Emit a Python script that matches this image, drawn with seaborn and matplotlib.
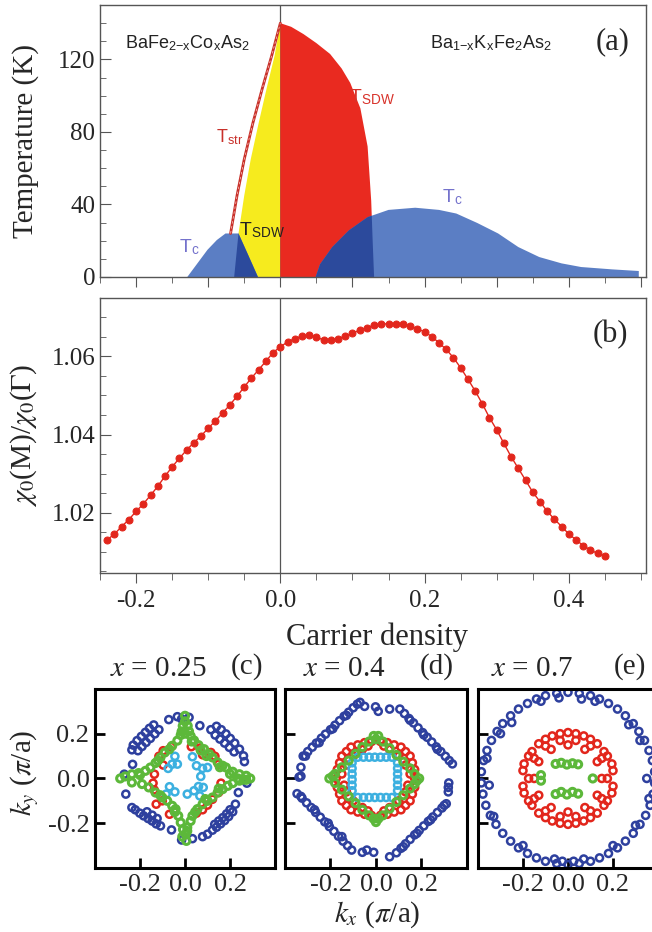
import matplotlib
matplotlib.use('Agg')
import matplotlib.pyplot as plt
import seaborn as sns
import numpy as np
from matplotlib.patches import Polygon
from matplotlib.ticker import MultipleLocator

# ---------------- (a) phase diagram boundaries ----------------
tc_co_x = [-0.129, -0.115, -0.101, -0.088, -0.076, -0.058, -0.045, -0.031]
tc_co_T = [0, 7.5, 15, 20.4, 24, 24, 12.5, 0]
sdw_co_x = [0.0, -0.008, -0.019, -0.030, -0.041, -0.050, -0.058, -0.064]
sdw_co_T = [140, 122, 104, 85, 65, 45, 24, 0]
tstr_x = [-0.069, -0.060, -0.050, -0.038, -0.025, -0.012, 0.0]
tstr_T = [24, 45, 65, 85, 104, 122, 140]
sdw_k_x = [0.0, 0.015, 0.032, 0.050, 0.069, 0.085, 0.097, 0.111, 0.121, 0.126, 0.128, 0.130]
sdw_k_T = [140, 138, 134, 129, 123, 115, 107, 93, 72, 42, 20, 0]
tc_k_x = [0.049, 0.055, 0.072, 0.095, 0.121, 0.15, 0.187, 0.22, 0.244, 0.273,
          0.302, 0.33, 0.359, 0.39, 0.417, 0.46, 0.497]
tc_k_T = [0, 7, 16.5, 25.7, 33, 37, 38.2, 37, 35, 29.8, 24, 16.5, 11, 7.5, 5.5, 4.2, 3.3]

# ---------------- (b) susceptibility ratio ----------------
carrier = [-0.24, -0.23, -0.22, -0.21, -0.20, -0.19, -0.18, -0.17, -0.16, -0.15,
           -0.14, -0.13, -0.12, -0.11, -0.10, -0.09, -0.08, -0.07, -0.06, -0.05,
           -0.04, -0.03, -0.02, -0.01, 0.00, 0.01, 0.02, 0.03, 0.04, 0.05,
           0.06, 0.07, 0.08, 0.09, 0.10, 0.11, 0.12, 0.13, 0.14, 0.15,
           0.16, 0.17, 0.18, 0.19, 0.20, 0.21, 0.22, 0.23, 0.24, 0.25,
           0.26, 0.27, 0.28, 0.29, 0.30, 0.31, 0.32, 0.33, 0.34, 0.35,
           0.36, 0.37, 0.38, 0.39, 0.40, 0.41, 0.42, 0.43, 0.44, 0.45]
chi_ratio = [1.0130, 1.0145, 1.0164, 1.0182, 1.0203, 1.0222, 1.0244, 1.0267, 1.0293, 1.0317,
             1.0339, 1.0360, 1.0379, 1.0396, 1.0416, 1.0435, 1.0455, 1.0476, 1.0498, 1.0522,
             1.0545, 1.0566, 1.0588, 1.0610, 1.0625, 1.0637, 1.0646, 1.0652, 1.0654, 1.0650,
             1.0642, 1.0641, 1.0646, 1.0652, 1.0659, 1.0668, 1.0674, 1.0680, 1.0683, 1.0684,
             1.0684, 1.0683, 1.0678, 1.0671, 1.0663, 1.0651, 1.0635, 1.0618, 1.0597, 1.0571,
             1.0542, 1.0512, 1.0479, 1.0443, 1.0412, 1.0377, 1.0343, 1.0313, 1.0283, 1.0252,
             1.0228, 1.0203, 1.0183, 1.0164, 1.0145, 1.0130, 1.0115, 1.0104, 1.0095, 1.0089]

# ---------------- (c) x = 0.25 Fermi surface ----------------
c_blue_kx = [-0.139, -0.158, -0.176, -0.194, -0.213, -0.230, -0.236,
             -0.116, -0.134, -0.154, -0.173, -0.191, -0.209,
             -0.072, -0.034, -0.015, 0.018, 0.066,
             0.140, 0.161, 0.182, 0.201, 0.221, 0.242, 0.260,
             0.115, 0.134, 0.155, 0.176, 0.197, 0.218,
             0.264, 0.275, 0.237,
             0.224, 0.212, 0.194, 0.176, 0.158, 0.140, 0.122, 0.100, 0.078,
             0.200, 0.185, 0.168, 0.150, 0.132,
             0.033, -0.015, -0.060,
             -0.109, -0.128, -0.146, -0.164, -0.184, -0.201, -0.221, -0.236,
             -0.124, -0.146, -0.169,
             -0.263, -0.270, -0.233]
c_blue_ky = [0.239, 0.224, 0.206, 0.188, 0.169, 0.149, 0.128,
             0.218, 0.199, 0.179, 0.161, 0.143, 0.124,
             0.263, 0.276, 0.266, 0.273, 0.236,
             0.233, 0.218, 0.199, 0.179, 0.158, 0.131, 0.101,
             0.218, 0.194, 0.176, 0.158, 0.139, 0.119,
             0.075, -0.021, -0.063,
             -0.115, -0.149, -0.170, -0.188, -0.203, -0.218, -0.231, -0.249, -0.260,
             -0.140, -0.158, -0.175, -0.190, -0.205,
             -0.269, -0.275, -0.230,
             -0.212, -0.203, -0.190, -0.179, -0.167, -0.155, -0.140, -0.130,
             -0.179, -0.164, -0.149,
             -0.070, 0.019, 0.063]
c_red_kx = [-0.061, -0.097, -0.116, -0.097, -0.136, -0.142, -0.137, -0.128, -0.101, -0.069,
            -0.049, 0.028, 0.066, 0.078, 0.115, 0.133, 0.149, 0.160, 0.149, 0.122,
            0.100, 0.078, 0.051]
c_red_ky = [0.142, 0.124, 0.099, 0.060, 0.019, -0.021, -0.051, -0.115, -0.100, -0.160,
            -0.145, 0.142, 0.136, 0.106, 0.116, 0.099, 0.064, -0.021, -0.063, -0.093,
            -0.119, -0.140, -0.155]
c_cyan_kx = [-0.045, -0.057, -0.075, -0.034, 0.033, 0.051, 0.078, 0.070, 0.100,
             -0.069, -0.045, -0.084, 0.010, 0.040, 0.060, 0.081, 0.066]
c_cyan_ky = [0.099, 0.064, 0.045, 0.064, 0.097, 0.057, 0.045, 0.009, 0.049,
             -0.037, -0.060, -0.070, -0.070, -0.055, -0.036, -0.040, -0.078]
c_green_kx = [0.0, 0.0, -0.010, 0.012, -0.015, 0.018, 0.0,
              0.025, 0.040, 0.060, 0.085, 0.107, 0.122, 0.145, 0.167, 0.182, 0.212, 0.242, 0.272,
              0.290, 0.260, 0.235,
              0.272, 0.242, 0.212, 0.190, 0.167, 0.145, 0.122, 0.100, 0.078, 0.055, 0.033,
              0.025, 0.010, 0.003, 0.006,
              -0.236, -0.191, -0.161, -0.131, -0.101, -0.079, -0.057, -0.042, -0.030, -0.019, -0.009,
              -0.288, -0.266,
              -0.236, -0.206, -0.176, -0.154, -0.131, -0.109, -0.090, -0.057, -0.034, -0.019,
              0.030, 0.070, 0.095, 0.155, 0.200, -0.070, -0.120, -0.200, -0.045, -0.110,
              0.045, 0.090, 0.150, -0.012, 0.010]
c_green_ky = [0.280, 0.255, 0.235, 0.235, 0.210, 0.210, 0.200,
              0.190, 0.170, 0.149, 0.131, 0.109, 0.094, 0.072, 0.057, 0.049, 0.030, 0.019, 0.012,
              0.0, -0.005, 0.0,
              -0.006, -0.010, -0.021, -0.033, -0.048, -0.063, -0.085, -0.100, -0.115, -0.137, -0.167,
              -0.190, -0.219, -0.249, -0.279,
              -0.018, -0.025, -0.040, -0.063, -0.085, -0.100, -0.122, -0.137, -0.167, -0.197, -0.227,
              0.0, 0.009,
              0.019, 0.024, 0.034, 0.049, 0.069, 0.094, 0.116, 0.146, 0.169, 0.194,
              0.165, 0.125, 0.100, 0.050, 0.020, 0.130, 0.080, 0.015, -0.150, -0.075,
              -0.150, -0.092, -0.045, -0.260, -0.235]

# ---------------- (d) x = 0.4 ----------------
d_blue_kx = [-0.320, -0.300, -0.280, -0.262, -0.240, -0.222, -0.200, -0.180, -0.160, -0.140, -0.120, -0.100, -0.082, -0.070,
             -0.050, -0.002, 0.010, 0.060, 0.105,
             0.125, 0.145, 0.165, 0.185, 0.205, 0.225, 0.245, 0.265, 0.285, 0.305, 0.322, 0.336,
             0.320, 0.318, 0.318, 0.309,
             0.290, 0.270, 0.250, 0.230, 0.210, 0.190, 0.170, 0.150, 0.130, 0.110, 0.090, 0.060,
             -0.010, -0.040, -0.060, -0.107,
             -0.125, -0.145, -0.165, -0.185, -0.205, -0.225, -0.245, -0.265, -0.285, -0.305, -0.325, -0.347,
             -0.338, -0.330, -0.330,
             -0.310, -0.250, -0.190, -0.130, 0.150, 0.210, 0.270, 0.300, 0.240, 0.180, 0.120,
             -0.150, -0.210, -0.270, -0.330]
d_blue_ky = [0.100, 0.120, 0.140, 0.158, 0.180, 0.198, 0.218, 0.238, 0.258, 0.278, 0.296, 0.316, 0.332, 0.340,
             0.322, 0.320, 0.300, 0.310, 0.310,
             0.290, 0.268, 0.248, 0.226, 0.205, 0.184, 0.163, 0.141, 0.120, 0.099, 0.080, 0.065,
             -0.020, -0.040, -0.060, -0.113,
             -0.132, -0.152, -0.172, -0.192, -0.212, -0.232, -0.252, -0.272, -0.292, -0.312, -0.332, -0.350,
             -0.330, -0.320, -0.330, -0.320,
             -0.300, -0.280, -0.258, -0.236, -0.215, -0.194, -0.173, -0.152, -0.130, -0.109, -0.088, -0.068,
             0.006, 0.010, 0.050,
             0.100, 0.160, 0.222, 0.282, 0.260, 0.195, 0.130, -0.120, -0.185, -0.245, -0.305,
             -0.260, -0.200, -0.140, -0.080]
d_red_kx = [-0.05, -0.02, 0.02, 0.05, 0.08, 0.11, 0.13, 0.15, 0.16, 0.17, 0.17, 0.17,
            0.16, 0.15, 0.13, 0.11, 0.08, 0.05, 0.02, -0.02, -0.05, -0.08, -0.11, -0.13,
            -0.15, -0.16, -0.17, -0.175, -0.17, -0.16, -0.15, -0.13, -0.11, -0.08,
            -0.13, -0.13, 0.13, 0.13, -0.06, 0.06, -0.06, 0.06, -0.10, 0.10, 0.10, -0.10,
            -0.15, 0.15, -0.14, 0.14, -0.035, 0.035, -0.035, 0.035]
d_red_ky = [0.16, 0.165, 0.165, 0.16, 0.15, 0.14, 0.12, 0.10, 0.07, 0.04, 0.0, -0.04,
            -0.07, -0.10, -0.12, -0.14, -0.15, -0.16, -0.165, -0.165, -0.16, -0.15, -0.14, -0.12,
            -0.10, -0.07, -0.04, 0.0, 0.04, 0.07, 0.10, 0.12, 0.14, 0.15,
            0.06, -0.06, 0.06, -0.06, 0.13, 0.13, -0.13, -0.13, 0.10, 0.10, -0.10, -0.10,
            0.02, 0.02, -0.03, -0.03, 0.145, 0.145, -0.145, -0.145]
d_green_kx = [-0.01, 0.01, 0.0,
              0.03, 0.06, 0.09, 0.12, 0.15, 0.17,
              0.19, 0.18,
              0.17, 0.15, 0.12, 0.09, 0.06, 0.03,
              0.0, -0.01, 0.01,
              -0.03, -0.06, -0.09, -0.12, -0.15, -0.18,
              -0.205, -0.19,
              -0.18, -0.15, -0.12, -0.09, -0.06, -0.03]
d_green_ky = [0.19, 0.19, 0.175,
              0.165, 0.135, 0.105, 0.075, 0.045, 0.02,
              0.0, -0.01,
              -0.025, -0.045, -0.075, -0.105, -0.135, -0.165,
              -0.195, -0.18, -0.18,
              -0.165, -0.14, -0.11, -0.08, -0.05, -0.02,
              0.0, 0.01,
              0.02, 0.05, 0.08, 0.11, 0.14, 0.165]
d_cyan_kx = [-0.080, -0.055, -0.030, -0.005, 0.020, 0.045, 0.070,
             -0.080, -0.055, -0.030, -0.005, 0.020, 0.045, 0.070,
             -0.105, -0.105, -0.105, -0.105, -0.105, -0.105,
             0.095, 0.095, 0.095, 0.095, 0.095, 0.095]
d_cyan_ky = [0.095, 0.095, 0.095, 0.095, 0.095, 0.095, 0.095,
             -0.085, -0.085, -0.085, -0.085, -0.085, -0.085, -0.085,
             0.070, 0.045, 0.020, -0.005, -0.030, -0.055,
             0.070, 0.045, 0.020, -0.005, -0.030, -0.055]

# ---------------- (e) x = 0.7 ----------------
e_blue_kx = [0.0, 0.05, 0.10, 0.14, 0.18, 0.22, 0.255, 0.29, 0.315, 0.34, 0.36, 0.375, 0.385,
             0.385, 0.378, 0.365, 0.345, 0.32, 0.29, 0.255, 0.22, 0.18, 0.14, 0.10, 0.05,
             0.0, -0.05, -0.10, -0.14, -0.18, -0.22, -0.255, -0.29, -0.32, -0.345, -0.365, -0.378,
             -0.385, -0.385, -0.375, -0.36, -0.34, -0.315, -0.29, -0.255, -0.22, -0.18, -0.14, -0.10, -0.05,
             -0.30, -0.25, 0.27, 0.32, -0.33, 0.30, -0.06, 0.07, -0.04, 0.06, 0.35, -0.35,
             0.025, -0.025, -0.20, 0.20, -0.36, 0.36, -0.12, 0.12]
e_blue_ky = [0.385, 0.38, 0.37, 0.355, 0.335, 0.31, 0.28, 0.245, 0.21, 0.17, 0.125, 0.08, 0.03,
             -0.02, -0.07, -0.12, -0.165, -0.205, -0.245, -0.28, -0.31, -0.335, -0.355, -0.37, -0.38,
             -0.385, -0.38, -0.37, -0.355, -0.335, -0.31, -0.28, -0.245, -0.205, -0.165, -0.12, -0.07,
             -0.02, 0.03, 0.08, 0.125, 0.17, 0.21, 0.245, 0.28, 0.31, 0.335, 0.355, 0.37, 0.38,
             0.20, 0.25, 0.24, 0.17, -0.17, -0.21, -0.36, -0.36, 0.36, 0.355, 0.0, -0.03,
             -0.37, -0.37, -0.30, -0.30, 0.09, -0.09, 0.345, 0.345]
e_red_kx = [0.0, 0.07, 0.13, 0.175, 0.20, 0.20, 0.175, 0.13, 0.07, 0.0, -0.07, -0.13, -0.175, -0.20, -0.20, -0.175, -0.13, -0.07,
            0.035, 0.10, 0.15, 0.175, 0.15, 0.10, 0.035, -0.035, -0.10, -0.15, -0.175, -0.15, -0.10, -0.035,
            0.0, 0.075, 0.13, 0.15, 0.13, 0.075, 0.0, -0.075, -0.13, -0.15, -0.13, -0.075,
            0.035, 0.10, 0.16, 0.195, 0.195, 0.16, 0.10, 0.035, -0.035, -0.10, -0.16, -0.195, -0.195, -0.16, -0.10, -0.035]
e_red_ky = [0.205, 0.19, 0.155, 0.10, 0.035, -0.035, -0.10, -0.155, -0.19, -0.205, -0.19, -0.155, -0.10, -0.035, 0.035, 0.10, 0.155, 0.19,
            0.17, 0.145, 0.09, 0.0, -0.09, -0.145, -0.17, -0.17, -0.145, -0.09, 0.0, 0.09, 0.145, 0.17,
            0.15, 0.13, 0.075, 0.0, -0.075, -0.13, -0.15, -0.13, -0.075, 0.0, 0.075, 0.13,
            0.20, 0.175, 0.12, 0.065, -0.065, -0.12, -0.175, -0.20, -0.20, -0.175, -0.12, -0.065, 0.065, 0.12, 0.175, 0.20]
e_green_kx = [-0.055, -0.030, -0.005, 0.020, 0.045, -0.055, -0.030, -0.005, 0.020, 0.045, -0.120, -0.120, 0.110]
e_green_ky = [0.065, 0.070, 0.062, 0.068, 0.063, -0.070, -0.060, -0.072, -0.060, -0.068, 0.015, -0.010, 0.0]

# ---------------- style ----------------
sns.set_style('ticks')
plt.rcParams['font.family'] = ['Liberation Serif', 'DejaVu Serif']
plt.rcParams['mathtext.fontset'] = 'stix'

SANS = ['Liberation Sans', 'DejaVu Sans']
LBLUE, DBLUE, RED, YELLOW = '#5b7ec4', '#2c4a9c', '#e92a20', '#f6eb1e'
C_BLUE, C_RED, C_GREEN, C_CYAN = '#2e409e', '#e2261c', '#5cb83a', '#3cb0e0'
GRAY = '#555555'

fig = plt.figure(figsize=(6.52, 9.32), dpi=100)
ax_a = fig.add_axes([0.1534, 0.7028, 0.8374, 0.2918])
ax_b = fig.add_axes([0.1534, 0.3852, 0.8374, 0.2951])

# ---------------- panel (a) ----------------
ax = ax_a
ax.fill(sdw_co_x + [0.0], sdw_co_T + [0], color=YELLOW, lw=0)
ax.fill(sdw_k_x + [0.0], sdw_k_T + [0], color=RED, lw=0)
ax.fill(tc_co_x, tc_co_T, color=LBLUE, lw=0)
ax.fill(tc_k_x + [tc_k_x[-1]], tc_k_T + [0], color=LBLUE, lw=0)

# overlap of SDW and superconducting domes in dark blue
clip_co = Polygon(np.column_stack([sdw_co_x + [0.0], sdw_co_T + [0]]), closed=True,
                  transform=ax.transData)
clip_k = Polygon(np.column_stack([sdw_k_x + [0.0], sdw_k_T + [0]]), closed=True,
                 transform=ax.transData)
for p in ax.fill(tc_co_x, tc_co_T, color=DBLUE, lw=0):
    p.set_clip_path(clip_co)
for p in ax.fill(tc_k_x + [tc_k_x[-1]], tc_k_T + [0], color=DBLUE, lw=0):
    p.set_clip_path(clip_k)

sns.lineplot(x=tstr_x, y=tstr_T, color='#c8302a', lw=2.0, ax=ax)
sns.lineplot(x=tstr_x, y=tstr_T, color='#f4b0a8', lw=0.6, ls=(0, (3, 3)), ax=ax)
ax.axvline(0, color=GRAY, lw=0.9, zorder=0.5)

ax.text(-0.215, 129, r'BaFe$_\mathregular{2{-}x}$Co$_\mathregular{x}$As$_\mathregular{2}$',
        family=SANS, fontsize=13, color='#222222', va='center')
ax.text(0.207, 129, r'Ba$_\mathregular{1{-}x}$K$_\mathregular{x}$Fe$_\mathregular{2}$As$_\mathregular{2}$',
        family=SANS, fontsize=13, color='#222222', va='center')
ax.text(0.095, 99, r'T$_\mathregular{SDW}$', family=SANS, fontsize=14, color='#d8322a', va='center')
ax.text(-0.089, 77, r'T$_\mathregular{str}$', family=SANS, fontsize=13, color='#c8302a', va='center')
ax.text(-0.057, 26, r'T$_\mathregular{SDW}$', family=SANS, fontsize=14, color='#222222', va='center')
ax.text(-0.141, 16.5, r'T$_\mathregular{c}$', family=SANS, fontsize=14, color='#7472cc', va='center')
ax.text(0.224, 44, r'T$_\mathregular{c}$', family=SANS, fontsize=14, color='#7472cc', va='center')
ax.text(0.461, 130, '(a)', fontsize=22, ha='center', va='center')

ax.set_xlim(-0.25, 0.507)
ax.set_ylim(0, 150)
ax.yaxis.set_major_locator(MultipleLocator(40))
ax.yaxis.set_minor_locator(MultipleLocator(10))
ax.xaxis.set_major_locator(MultipleLocator(0.1))
ax.xaxis.set_minor_locator(MultipleLocator(0.05))
ax.tick_params(axis='x', which='both', direction='out', labelbottom=False, color=GRAY)
ax.tick_params(axis='x', which='major', length=7)
ax.tick_params(axis='x', which='minor', length=4)
ax.tick_params(axis='y', which='both', direction='in', color=GRAY, labelsize=18)
ax.tick_params(axis='y', which='major', length=8)
ax.tick_params(axis='y', which='minor', length=4)
ax.set_ylabel('Temperature (K)', fontsize=21)
ax.yaxis.set_label_coords(-0.112, 0.5)

# ---------------- panel (b) ----------------
ax = ax_b
ax.axvline(0, color=GRAY, lw=0.9, zorder=0.5)
sns.lineplot(x=carrier, y=chi_ratio, color=C_RED, lw=1.0, marker='o', markersize=5,
             markeredgecolor=C_RED, ax=ax)
ax.text(0.457, 1.0657, '(b)', fontsize=22, ha='center', va='center')
ax.set_xlim(-0.25, 0.507)
ax.set_ylim(1.0045, 1.075)
ax.yaxis.set_major_locator(MultipleLocator(0.02))
ax.yaxis.set_minor_locator(MultipleLocator(0.005))
ax.xaxis.set_major_locator(MultipleLocator(0.2))
ax.xaxis.set_minor_locator(MultipleLocator(0.05))
ax.xaxis.set_major_formatter(lambda v, pos: f'{v:.1f}')
ax.tick_params(axis='x', which='both', direction='out', color=GRAY, labelsize=18, pad=5)
ax.tick_params(axis='x', which='major', length=7)
ax.tick_params(axis='x', which='minor', length=5)
ax.tick_params(axis='y', which='both', direction='in', color=GRAY, labelsize=18)
ax.tick_params(axis='y', which='major', length=8)
ax.tick_params(axis='y', which='minor', length=4)
ax.set_ylabel(r'$\chi_0$(M)/$\chi_0$($\Gamma$)', fontsize=21)
ax.yaxis.set_label_coords(-0.112, 0.5)
ax.set_xlabel('Carrier density', fontsize=22)
ax.xaxis.set_label_coords(0.507, -0.18)

for ax in (ax_a, ax_b):
    for s in ax.spines.values():
        s.set_color(GRAY)
        s.set_linewidth(1.0)

# ---------------- panels (c)-(e) ----------------
fs_panels = [
    ([0.1457, 0.0687, 0.2761, 0.1921], r'$x$ = 0.25', '(c)', 158, 247,
     [(c_blue_kx, c_blue_ky, C_BLUE), (c_red_kx, c_red_ky, C_RED),
      (c_cyan_kx, c_cyan_ky, C_CYAN), (c_green_kx, c_green_ky, C_GREEN)]),
    ([0.4371, 0.0687, 0.2791, 0.1921], r'$x$ = 0.4', '(d)', 344, 437,
     [(d_blue_kx, d_blue_ky, C_BLUE), (d_red_kx, d_red_ky, C_RED),
      (d_cyan_kx, d_cyan_ky, C_CYAN), (d_green_kx, d_green_ky, C_GREEN)]),
    ([0.7331, 0.0687, 0.2761, 0.1921], r'$x$ = 0.7', '(e)', 532, 630,
     [(e_blue_kx, e_blue_ky, C_BLUE), (e_red_kx, e_red_ky, C_RED),
      (e_green_kx, e_green_ky, C_GREEN)]),
]

for i, (rect, title, tag, tx, gx, series) in enumerate(fs_panels):
    ax = fig.add_axes(rect)
    for kx, ky, col in series:
        lw = 2.2 if col == C_GREEN else 1.8
        sns.scatterplot(x=kx, y=ky, ax=ax, s=26, color=col, facecolor='none',
                        edgecolor=col, linewidth=lw)
    ax.set_xlim(-0.4, 0.4)
    ax.set_ylim(-0.4, 0.4)
    ax.set_xticks([-0.2, 0.0, 0.2])
    ax.set_yticks([-0.2, 0.0, 0.2])
    ax.xaxis.set_major_formatter(lambda v, pos: f'{v:.1f}')
    ax.yaxis.set_major_formatter(lambda v, pos: f'{v:.1f}')
    ax.tick_params(direction='in', length=7, width=2, color='black', labelsize=19, pad=4,
                   labelleft=(i == 0))
    for s in ax.spines.values():
        s.set_color('black')
        s.set_linewidth(2.2)
    fig.text(tx / 652, 1 - 669 / 932, title, fontsize=21, ha='center', va='center')
    fig.text(gx / 652, 1 - 667 / 932, tag, fontsize=21, ha='center', va='center')
    if i == 0:
        ax.set_ylabel(r'$k_y$ ($\pi$/a)', fontsize=21)
        ax.yaxis.set_label_coords(-0.30, 0.53)

fig.text(377 / 652, 1 - 915 / 932, r'$k_x$ ($\pi$/a)', fontsize=21, ha='center', va='center')

fig.savefig('out.png', dpi=100)
